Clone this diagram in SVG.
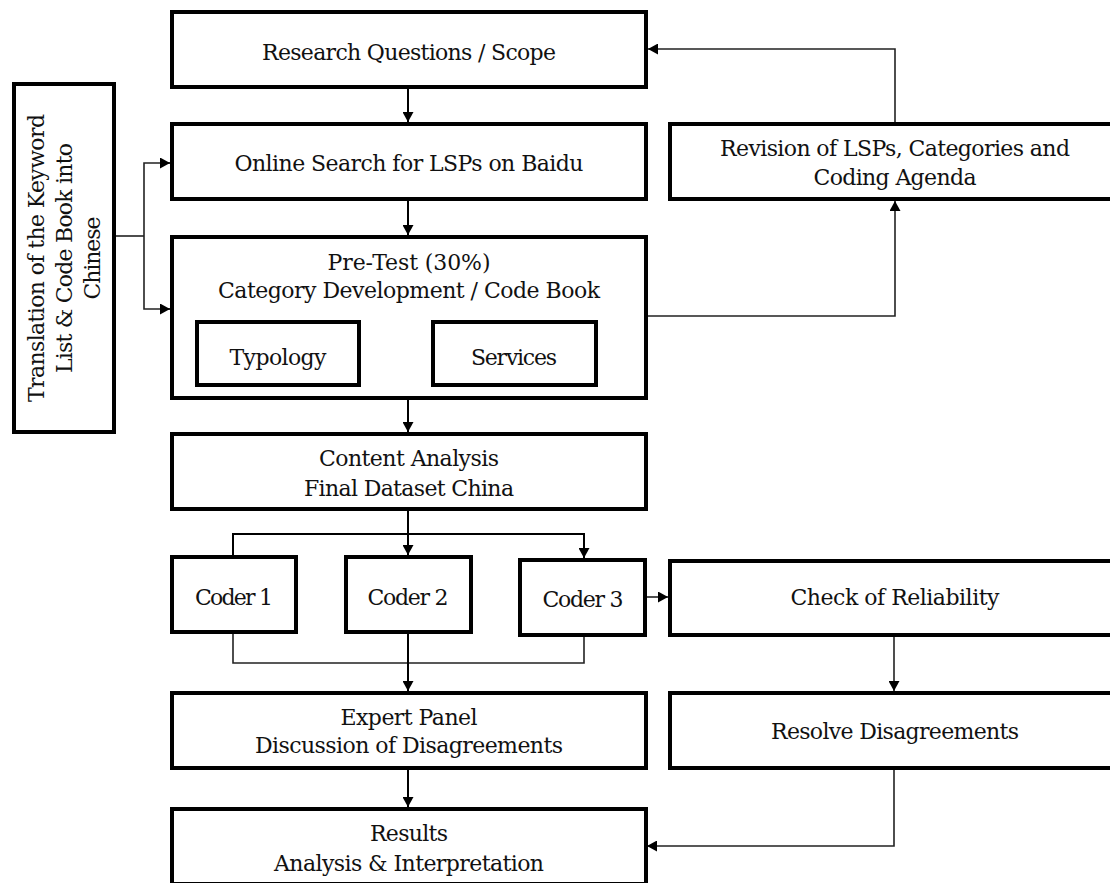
<svg xmlns="http://www.w3.org/2000/svg" width="1110" height="883" viewBox="0 0 1110 883">
  <style>
    .box { fill: #fff; stroke: #000; stroke-width: 4; }
    .lbl { font-family: "DejaVu Serif", "Liberation Serif", serif; font-size: 22px; fill: #111; text-anchor: middle; }
    .main { fill: none; stroke: #000; stroke-width: 2; }
    .thin { fill: none; stroke: #222; stroke-width: 1.6; }
  </style>
  <defs>
    <marker id="arrow" viewBox="0 0 10 11" refX="10" refY="5.5" markerWidth="10" markerHeight="11" markerUnits="userSpaceOnUse" orient="auto">
      <path d="M0,0 L10,5.5 L0,11 z" fill="#000"/>
    </marker>
  </defs>
  <rect width="1110" height="883" fill="#fff"/>

  <!-- connectors -->
  <g id="connectors">
    <line class="main" x1="408" y1="89" x2="408" y2="122" marker-end="url(#arrow)"/>
    <line class="main" x1="408" y1="201" x2="408" y2="235" marker-end="url(#arrow)"/>
    <line class="main" x1="408" y1="400" x2="408" y2="432" marker-end="url(#arrow)"/>
    <!-- split to coders -->
    <line class="main" x1="408" y1="511" x2="408" y2="555" marker-end="url(#arrow)"/>
    <polyline class="main" points="233,555 233,534 584,534 584,558" marker-end="url(#arrow)"/>
    <!-- merge from coders -->
    <polyline class="thin" points="233,634 233,663 584,663 584,637"/>
    <line class="main" x1="408" y1="634" x2="408" y2="691" marker-end="url(#arrow)"/>
    <line class="main" x1="408" y1="770" x2="408" y2="807" marker-end="url(#arrow)"/>
    <!-- translation feeds -->
    <line class="thin" x1="115" y1="236" x2="144" y2="236"/>
    <polyline class="thin" points="170,163 144,163 144,309 170,309"/>
    <line class="thin" x1="160" y1="163" x2="170" y2="163" marker-end="url(#arrow)"/>
    <line class="thin" x1="160" y1="309" x2="170" y2="309" marker-end="url(#arrow)"/>
    <!-- revision loop -->
    <polyline class="thin" points="895,122 895,49 648,49" marker-end="url(#arrow)"/>
    <polyline class="thin" points="648,316 895,316 895,201" marker-end="url(#arrow)"/>
    <!-- reliability path -->
    <line class="thin" x1="647" y1="597" x2="668" y2="597" marker-end="url(#arrow)"/>
    <line class="thin" x1="894" y1="637" x2="894" y2="691" marker-end="url(#arrow)"/>
    <polyline class="thin" points="894,770 894,846 647,846" marker-end="url(#arrow)"/>
  </g>

  <g id="translation">
    <rect class="box" x="14" y="84" width="100" height="348"/>
    <g transform="translate(36,258) rotate(-90)"><text class="lbl" x="0" y="8" textLength="288">Translation of the Keyword</text></g>
    <g transform="translate(64,258) rotate(-90)"><text class="lbl" x="0" y="8" textLength="230">List &amp; Code Book into</text></g>
    <g transform="translate(92,258) rotate(-90)"><text class="lbl" x="0" y="8" textLength="83">Chinese</text></g>
  </g>

  <g id="research">
    <rect class="box" x="172" y="12" width="474" height="75"/>
    <text class="lbl" x="409" y="60" textLength="294">Research Questions / Scope</text>
  </g>

  <g id="online-search">
    <rect class="box" x="172" y="124" width="474" height="75"/>
    <text class="lbl" x="409" y="171" textLength="349">Online Search for LSPs on Baidu</text>
  </g>

  <g id="pretest">
    <rect class="box" x="172" y="237" width="474" height="161"/>
    <text class="lbl" x="409" y="270" textLength="163">Pre-Test (30%)</text>
    <text class="lbl" x="409" y="298" textLength="382">Category Development / Code Book</text>
  </g>

  <g id="typology">
    <rect class="box" x="197" y="322" width="162" height="63"/>
    <text class="lbl" x="278" y="365" textLength="97">Typology</text>
  </g>

  <g id="services">
    <rect class="box" x="433" y="322" width="163" height="63"/>
    <text class="lbl" x="514" y="365" textLength="86">Services</text>
  </g>

  <g id="revision">
    <rect class="box" x="670" y="124" width="450" height="75"/>
    <text class="lbl" x="895" y="156" textLength="350">Revision of LSPs, Categories and</text>
    <text class="lbl" x="895" y="185" textLength="163">Coding Agenda</text>
  </g>

  <g id="content-analysis">
    <rect class="box" x="172" y="434" width="474" height="75"/>
    <text class="lbl" x="409" y="466" textLength="180">Content Analysis</text>
    <text class="lbl" x="409" y="496" textLength="210">Final Dataset China</text>
  </g>

  <g id="coder1">
    <rect class="box" x="172" y="557" width="124" height="75"/>
    <text class="lbl" x="234" y="605" textLength="78">Coder 1</text>
  </g>

  <g id="coder2">
    <rect class="box" x="346" y="557" width="125" height="75"/>
    <text class="lbl" x="408" y="605" textLength="81">Coder 2</text>
  </g>

  <g id="coder3">
    <rect class="box" x="520" y="560" width="125" height="75"/>
    <text class="lbl" x="583" y="607" textLength="81">Coder 3</text>
  </g>

  <g id="reliability">
    <rect class="box" x="670" y="561" width="450" height="74"/>
    <text class="lbl" x="895" y="605" textLength="209">Check of Reliability</text>
  </g>

  <g id="expert-panel">
    <rect class="box" x="172" y="693" width="474" height="75"/>
    <text class="lbl" x="409" y="725" textLength="137">Expert Panel</text>
    <text class="lbl" x="409" y="753" textLength="308">Discussion of Disagreements</text>
  </g>

  <g id="resolve">
    <rect class="box" x="670" y="693" width="450" height="75"/>
    <text class="lbl" x="895" y="739" textLength="248">Resolve Disagreements</text>
  </g>

  <g id="results">
    <rect class="box" x="172" y="809" width="474" height="75"/>
    <text class="lbl" x="409" y="841" textLength="78">Results</text>
    <text class="lbl" x="409" y="871" textLength="270">Analysis &amp; Interpretation</text>
  </g>
</svg>
